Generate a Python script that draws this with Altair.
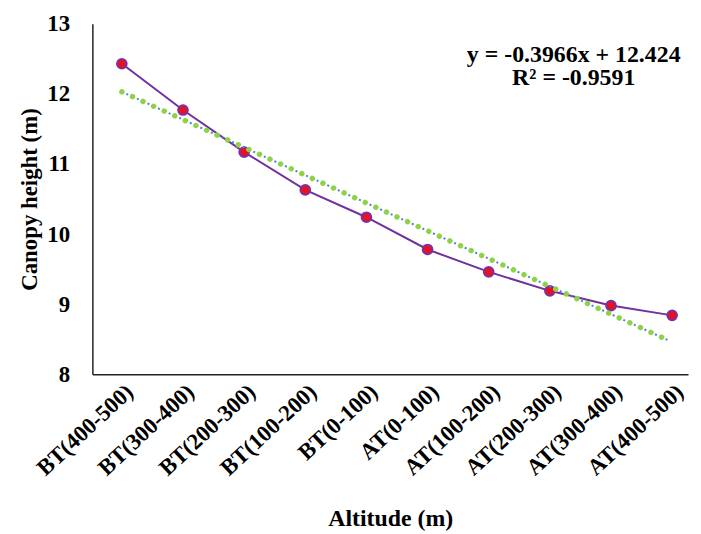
import json
import altair as alt
import pandas as pd

categories = ["BT(400-500)", "BT(300-400)", "BT(200-300)", "BT(100-200)", "BT(0-100)",
              "AT(0-100)", "AT(100-200)", "AT(200-300)", "AT(300-400)", "AT(400-500)"]
heights = [12.43, 11.77, 11.17, 10.63, 10.24, 9.78, 9.46, 9.19, 8.98, 8.84]
trend_ends = [12.03, 8.46]
equation_lines = ["y = -0.3966x + 12.424", "R² = -0.9591"]
y_ticks = [8, 9, 10, 11, 12, 13]

idx = list(range(1, len(categories) + 1))
df = pd.DataFrame({"idx": idx, "cat": categories, "h": heights})
trend_df = pd.DataFrame({"idx": [idx[0], idx[-1]], "h": trend_ends})
eq_df = pd.DataFrame({"idx": [8.39, 8.39], "h": [12.56, 12.22], "t": equation_lines})

FONT = "Liberation Serif"
label_expr = json.dumps(categories) + "[datum.value - 1]"

x_enc = alt.X(
    "idx:Q",
    scale=alt.Scale(domain=[0.518, 10.26], nice=False, zero=False),
    axis=alt.Axis(values=idx, labelExpr=label_expr, labelAngle=-43, labelOverlap=False,
                  title="Altitude (m)", grid=False, ticks=False, tickSize=0, labelPadding=6,
                  titlePadding=27, labelFontSize=23, titleFontSize=24),
)
y_enc = alt.Y(
    "h:Q",
    scale=alt.Scale(domain=[8, 13], nice=False, zero=False),
    axis=alt.Axis(values=y_ticks, format="d", title="Canopy height (m)", grid=False, ticks=False,
                  tickSize=0, labelPadding=23, titlePadding=5, labelFontSize=23, titleFontSize=23),
)

base = alt.Chart(df).encode(x=x_enc, y=y_enc)
line = base.mark_line(color="#7030A0", strokeWidth=2)
pts = base.mark_point(filled=True, fill="#E8121F", stroke="#7A2FA8", strokeWidth=2,
                      size=95, opacity=1, shape="circle")

tbase = alt.Chart(trend_df).encode(x=x_enc, y=y_enc)
trend_blue = tbase.mark_line(color="#4F7FD0", strokeWidth=2, strokeDash=[2, 9.7],
                             strokeDashOffset=-5)
trend_green = tbase.mark_line(color="#8FD24A", strokeWidth=5.5, strokeCap="round",
                              strokeDash=[0.01, 11.7])

eq = alt.Chart(eq_df).mark_text(font=FONT, fontSize=24, fontWeight="bold", color="black",
                                align="center", baseline="middle").encode(
    x=alt.X("idx:Q"), y=alt.Y("h:Q"), text="t:N")

chart = alt.layer(line, pts, trend_blue, trend_green, eq).properties(
    width=600, height=353, padding={"left": 11, "top": 3, "right": 5, "bottom": 0}
).configure_view(stroke=None).configure_axis(
    domainColor="#222222", domainWidth=1.5, labelFont=FONT, titleFont=FONT,
    labelFontWeight="bold", titleFontWeight="bold", labelColor="black", titleColor="black",
)

chart.save("out.html", embed_options={"renderer": "svg", "actions": False})
